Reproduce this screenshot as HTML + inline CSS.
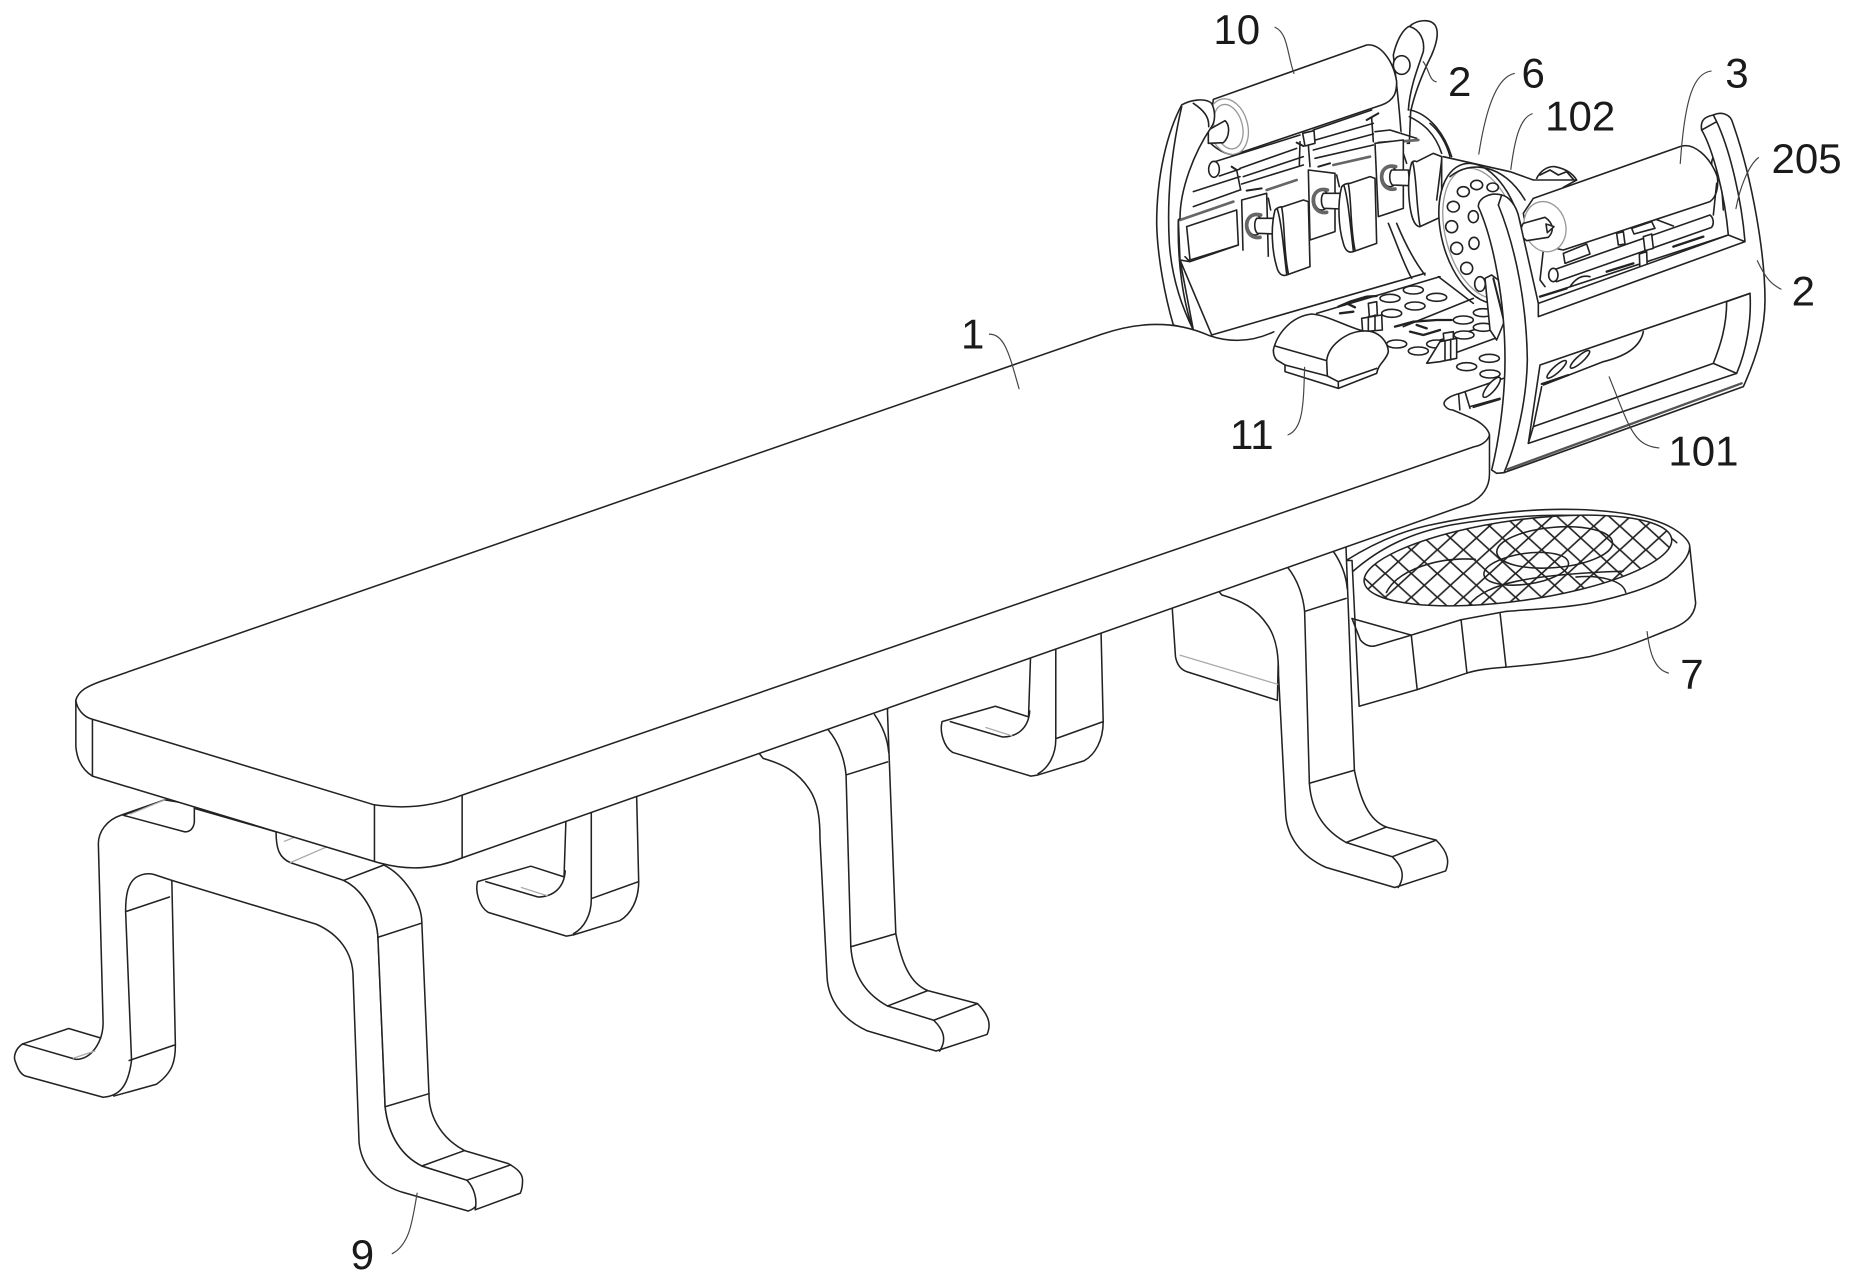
<!DOCTYPE html>
<html><head><meta charset="utf-8"><style>
html,body{margin:0;padding:0;background:#fff}
svg{display:block}
.d path,.d ellipse,.d circle,.d polygon{stroke:#222;stroke-width:1.3;fill:#fff;stroke-linejoin:round;stroke-linecap:round}
.d .n{fill:none}
.d .g{stroke:#aaa;fill:none;stroke-width:1.1}
.d .l{stroke:#444;fill:none;stroke-width:1}
.d .k{stroke:#222;fill:none;stroke-width:2.6}
.z path,.z ellipse,.z circle{stroke-width:4.8}
.z .g{stroke:#999;stroke-width:4;fill:none}
.z .k{stroke-width:9}
.z .m{stroke:#666;stroke-width:11;fill:none}
.z .w{stroke:none}
text{font-family:"Liberation Sans",sans-serif;font-size:35.5px;fill:#1a1a1a}
</style></head><body>
<svg class="d" width="1858" height="1284" viewBox="0 0 1568 1083.6" xmlns="http://www.w3.org/2000/svg">
<defs>
<pattern id="mesh" width="22" height="20" patternUnits="userSpaceOnUse" patternTransform="translate(3 4)">
<path d="M-1 -1L23 21M23 -1L-1 21" style="stroke:#222;stroke-width:1.4;fill:none"/>
</pattern>
<clipPath id="mc"><ellipse cx="1281" cy="473" rx="131" ry="34" transform="rotate(-8 1281 473)"/></clipPath>
<g id="legM">
<path d="M1031 502C1048 507 1060 513 1070 528C1078 540 1079 555 1079 570L1085 687C1086 705 1097 722 1119 732L1177 749L1220 735C1223 728 1223 720 1212 709L1170 698C1155 692 1148 675 1143 650L1136 464L1136 448L1020 488Z"/>
<path class="n" d="M1086 478C1096 490 1100 505 1101 516L1105 661C1107 688 1120 702 1136 711L1175 723C1182 730 1187 738 1180 749"/>
<path class="n" d="M1101 516L1136 505M1105 661L1143 650M1136 711L1170 698M1175 723L1212 709M1125 465C1132 475 1136 485 1137 497"/>
</g>
<g id="legR">
<path d="M403 744L448 731L476 740L478 680L537 660L539 744C539 760 532 772 523 777L484 789L478 790L412 770C404 765 401 752 403 744Z"/>
<path class="n" d="M410 744L454 757C466 757 476 750 477 735"/>
<path class="n" d="M499 675L499 759C499 772 493 783 484 788M500 758L539 744"/>
<path class="g" d="M440 749L462 756"/>
</g>
<g id="hd" class="z">
<path d="M430 590L490 570L505 575L510 770L440 795C425 800 415 790 410 770C395 720 392 650 405 600C412 592 422 590 430 590Z"/>
<path class="n" d="M412 597C425 640 430 710 440 792M425 592C435 640 430 720 445 790"/>
</g>
<g id="rg" class="z">
<ellipse cx="345" cy="645" rx="22" ry="30"/>
<path class="m" d="M362 615C335 608 318 625 320 650C322 672 338 686 360 682"/>
<path d="M350 625L400 625L405 672L352 670C342 660 342 635 350 625Z"/>
</g>
</defs>
<rect width="1568" height="1084" style="fill:#fff;stroke:none"/>

<!-- REAR UNIT, zoom-1 coords -->
<g class="z" transform="scale(0.84392) translate(1140 10) scale(0.33333)">
<path d="M785 400C780 300 770 230 760 135C770 90 790 55 810 48C830 30 870 25 885 45C898 65 890 100 875 135C850 185 825 245 812 305L808 400Z"/>
<path class="n" d="M810 50C840 60 855 90 850 125C835 170 810 230 805 300"/>
<ellipse cx="785" cy="165" rx="25" ry="28"/>
<path class="n" d="M810 300C860 310 910 360 935 440M808 320C850 340 885 370 905 430"/>
<path d="M220 268L680 105C720 100 760 150 770 215C770 245 765 270 725 285L280 435C240 430 210 400 205 390Z"/>
<ellipse cx="265" cy="350" rx="58" ry="85" class="g" transform="rotate(-15 265 350)"/>
<ellipse cx="265" cy="350" rx="42" ry="68" class="g" transform="rotate(-15 265 350)"/>
<path d="M205 360L255 332C270 345 270 380 250 398L205 400Z"/>
<!-- bars -->
<path class="w" d="M160 510L700 300L800 380L800 640L500 780L150 760Z"/>
<ellipse cx="222" cy="478" rx="16" ry="24"/>
<path class="n" d="M225 455L480 375M238 498L300 477M300 475L470 415M310 500L490 440M305 522L490 465M160 545L300 500M160 590L300 540"/>
<path class="n" d="M520 360L695 300M520 392L700 340M520 420L700 372M525 445L700 405M705 365L750 360L830 385"/>
<path d="M488 370L522 362L525 400L495 408Z"/>
<path class="n" d="M480 395L478 465M505 405L510 470M695 325L700 395M290 480L302 540M385 565L392 600M590 495L598 530M790 430L800 460"/>
<path class="k" d="M470 398L490 408M680 330L715 310M275 470L290 480M320 542L365 535M535 470L570 460M715 398L790 392" style="stroke-width:6"/>
<path class="m" d="M120 630L280 575M380 540L470 510M580 465L690 440M775 395L835 390" style="stroke-width:8"/>
<!-- blocks -->
<path d="M140 650L290 600L295 705L150 750Z"/>
<path d="M305 570L380 550L385 740L310 765Z"/>
<path d="M505 480L585 490L585 665L510 690Z"/>
<path d="M705 400L790 390L790 595L715 620Z"/>
<!-- near frame -->
<path d="M125 285C80 370 50 500 50 640C52 740 75 860 100 945L160 960C130 880 112 760 115 630L120 625C120 540 160 430 215 350C228 330 225 300 215 280C195 262 150 270 125 285Z"/>
<path class="n" d="M160 280C190 300 208 320 206 350M125 290C95 420 80 560 88 700C95 800 125 890 160 960"/>
<path class="w" d="M120 750L160 960L215 975L855 790L790 600L715 625L790 760L510 770L300 720L150 755Z"/>
<path class="n" d="M120 750L150 755L295 705M120 750L160 960M120 750L215 975L855 790M115 630L120 750M135 740L150 755"/>
<path class="n" d="M745 640C770 700 790 760 815 805M770 640C795 700 820 750 855 795"/>
<use href="#rg"/>
<use href="#rg" x="200" y="-75"/>
<use href="#rg" x="405" y="-145"/>
<use href="#hd"/>
<use href="#hd" x="200" y="-70"/>
<path d="M830 455L880 430L905 440L905 620L840 650C825 650 815 625 810 590C803 540 805 490 815 458C820 452 825 452 830 455Z"/>
<path class="n" d="M818 455C830 500 828 580 840 648"/>
</g>

<!-- PLATE, zoom-3 coords -->
<g class="z" transform="scale(0.84392) translate(1240 270) scale(0.33333)">
<path class="n" d="M230 130L600 20M490 170L700 85M560 280L765 205M600 210L750 165"/>
<g>
<ellipse cx="520" cy="60" rx="30" ry="12"/><ellipse cx="590" cy="82" rx="30" ry="12"/><ellipse cx="450" cy="85" rx="30" ry="12"/>
<ellipse cx="525" cy="108" rx="30" ry="12"/><ellipse cx="455" cy="130" rx="30" ry="12"/><ellipse cx="670" cy="150" rx="30" ry="12"/>
<ellipse cx="730" cy="128" rx="30" ry="12"/><ellipse cx="730" cy="172" rx="30" ry="12"/><ellipse cx="672" cy="195" rx="30" ry="12"/>
<ellipse cx="470" cy="222" rx="30" ry="12"/><ellipse cx="535" cy="243" rx="30" ry="12"/><ellipse cx="590" cy="222" rx="30" ry="12"/>
<ellipse cx="748" cy="265" rx="30" ry="12"/><ellipse cx="680" cy="290" rx="30" ry="12"/><ellipse cx="750" cy="312" rx="30" ry="12"/>
</g>
<path d="M385 100L410 95L412 135L388 140Z"/>
<path d="M365 145L425 135L427 180L368 185Z"/><path class="n" d="M385 140L385 180M405 135L405 180"/>
<path d="M610 190L640 185L640 210L612 215Z"/>
<path d="M600 215L650 205L650 265L600 275L560 280Z"/><path class="n" d="M615 212L615 270M632 208L632 270"/>
<path class="k" d="M295 110L330 95L380 80L410 78M300 130L340 125M320 100L345 112" style="stroke-width:7"/>
<path class="k" d="M465 170L520 155L590 150L635 150M510 185L550 195L600 180M530 165L560 175" style="stroke-width:7"/>
<path class="n" d="M660 370L790 325M690 410L780 385"/>
<path class="k" d="M700 412L780 388" style="stroke-width:5"/>
<path class="n" d="M675 365L690 415"/>
<ellipse cx="755" cy="352" rx="12" ry="38" transform="rotate(40 755 352)"/>
</g>

<!-- DISC + FRONT INTERNALS, zoom-2 coords -->
<g class="z" transform="scale(0.84392) translate(1430 100) scale(0.33333)">
<path class="n" d="M0 70C25 90 50 130 60 170M40 170L240 215L310 240L440 240M35 180L20 300M25 530L130 610"/>
<path class="n" d="M320 235C330 215 350 198 375 200C400 205 425 215 440 240L400 262"/>
<path class="k" d="M330 225L360 210L385 225L410 215L430 238" style="stroke-width:5"/>
<ellipse cx="155" cy="400" rx="120" ry="215" transform="rotate(-15 155 400)"/>
<ellipse cx="155" cy="400" rx="108" ry="200" class="g" transform="rotate(-15 155 400)"/>
<path class="n" d="M60 230C120 180 220 190 285 300"/>
<g>
<ellipse cx="140" cy="255" rx="18" ry="14"/><ellipse cx="100" cy="275" rx="18" ry="15"/><ellipse cx="70" cy="320" rx="18" ry="16"/>
<ellipse cx="65" cy="380" rx="18" ry="18"/><ellipse cx="80" cy="445" rx="18" ry="18"/><ellipse cx="110" cy="505" rx="18" ry="18"/>
<ellipse cx="150" cy="552" rx="16" ry="22"/><ellipse cx="188" cy="262" rx="17" ry="13"/><ellipse cx="130" cy="350" rx="15" ry="18"/>
<ellipse cx="132" cy="430" rx="15" ry="18"/>
</g>
<path d="M165 535L185 525L205 540L225 660L200 720L180 690Z"/>
<path class="k" d="M190 535L220 655" style="stroke-width:6"/>
<!-- interior -->
<path class="n" d="M400 440L840 300M330 590L895 405"/>
<path d="M370 510L840 345C852 355 852 372 845 382L380 545C365 540 362 520 370 510Z"/>
<ellipse cx="370" cy="525" rx="14" ry="20"/>
<path d="M400 460L470 432L480 462L405 490Z"/>
<path d="M560 400L580 395L585 432L565 435Z"/>
<path d="M605 385L665 365L675 385L612 402Z"/>
<path d="M640 410L665 402L670 445L645 452Z"/>
<path d="M628 462L650 455L652 510L630 515Z"/>
<path class="n" d="M670 355L730 378M340 450L330 540L345 560"/>
<path class="k" d="M330 590L410 565M530 515L610 490M730 440L820 410" style="stroke-width:7"/>
<path class="n" d="M420 560C440 530 460 525 480 530"/>
<!-- roller 3 -->
<ellipse cx="870" cy="190" rx="25" ry="30"/>
<path d="M310 295L750 140C790 125 840 170 862 230C866 260 860 290 840 305L400 450C340 440 285 390 280 340Z"/>
<path class="n" d="M860 250L850 345M875 260L880 330"/>
<ellipse cx="345" cy="380" rx="62" ry="76" style="stroke:#999;fill:#fff;stroke-width:4" transform="rotate(-15 345 380)"/>
<path d="M280 370L345 352C372 370 372 395 355 412L290 422C270 410 270 385 280 370Z"/>
<path d="M348 372L372 380L352 398Z"/>
</g>

<!-- leg parts behind table -->
<path d="M989 509L992 554C993 560 996 565 1002 567L1078 591L1080 500L1020 490Z"/>
<path class="g" d="M996 553L1080 578"/>

<!-- basket -->
<path d="M1136 473C1160 458 1185 447 1212 442C1260 432 1300 429 1332 430C1365 431 1395 436 1412 446C1422 452 1426 458 1426 461L1431 509C1430 520 1422 527 1407 532C1385 541 1365 549 1342 554C1320 558 1295 561 1271 563C1258 564 1248 565 1238 568L1196 582L1147 596L1141 473Z"/>
<path class="n" d="M1141 522L1148 540C1152 545 1157 546 1161 545L1191 536L1233 523L1271 516C1295 514 1320 513 1342 509C1370 503 1395 495 1407 487C1418 478 1426 470 1426 461"/>
<path class="n" d="M1141 522L1191 536L1196 582M1233 523L1238 568M1266 518L1271 563"/>
<path class="n" d="M1142 482C1165 462 1190 450 1225 443C1265 436 1310 433 1345 436C1380 439 1405 448 1415 458"/>
<ellipse cx="1281" cy="473" rx="131" ry="34" transform="rotate(-8 1281 473)" style="fill:#fff"/>
<ellipse cx="1312" cy="462" rx="49" ry="17" class="n" transform="rotate(-5 1312 462)"/>
<ellipse cx="1288" cy="480" rx="36" ry="13" class="n" transform="rotate(-8 1288 480)"/>
<path class="n" d="M1170 500C1180 480 1215 470 1245 472M1240 510C1255 492 1290 485 1370 482M1330 487C1350 485 1370 490 1372 500"/>
<g clip-path="url(#mc)"><rect x="1140" y="425" width="280" height="100" style="fill:url(#mesh);stroke:none"/></g>

<use href="#legM"/>
<use href="#legM" x="-387" y="138"/>
<use href="#legR" x="392" y="-135"/>
<use href="#legR"/>

<!-- front leg -->
<path d="M139 675L102 688C90 692 83 702 83 712L87 863C87 878 78 894 64 894L19 881C13 885 11 892 13 896C15 902 17 906 21 908L87 926C100 925 108 918 111 895L106 769C106 755 108 746 114 741C120 737 126 737 130 738L145 743L267 780C285 788 298 803 298 825L303 964C305 985 320 1000 339 1006L395 1022C402 1020 405 1014 403 1009C401 1003 398 998 394 996L356 984C340 976 328 960 325 934L319 792C318 770 305 750 290 743L245 728C236 724 233 717 233 702Z"/>
<path d="M139 675L164 679L164 694C163 700 160 702 156 702L104 688Z"/>
<path class="n" d="M145 743L148 882C148 895 146 905 132 915L96 925M107 769L143 757M109 895L147 882"/>
<path class="n" d="M19 881L58 868L85 876"/>
<path class="g" d="M62 893L80 887M110 687L139 675M245 728L282 712M240 710L250 706"/>
<path d="M324 730C340 738 356 760 356 779L362 923C362 945 375 962 392 971L429 982C436 986 441 990 441 996C441 1002 440 1005 439 1007L401 1021C403 1012 400 1002 394 996L356 984C340 976 328 960 325 934L319 792C318 770 305 750 290 743Z"/>
<path class="n" d="M319 791L356 779M325 934L362 923M356 984L392 971M394 996L431 983"/>

<!-- table -->
<path d="M64 591L64 630C65 642 70 650 78 655L316 727C345 736 368 733 390 724L1240 425C1250 420 1257 412 1257 400L1257 367L1100 350L64 591Z"/>
<path class="n" d="M78 607L78 655M316 680L316 727M390 671L390 724"/>
<path d="M64 591C66 583 74 579 85 575L930 282C965 270 995 272 1020 283C1040 290 1058 288 1075 280L1120 300L1162 315L1204 307L1232 332C1224 334 1217 338 1219 342C1221 345 1224 346 1226 346L1240 352C1250 356 1256 362 1257 367C1256 372 1250 376 1244 377L390 671C365 681 340 683 315 679L78 607C70 605 65 598 64 591Z" style="stroke:none"/>
<path class="n" d="M64 591C66 583 74 579 85 575L930 282C965 270 995 272 1020 283C1040 290 1058 288 1075 280"/>
<path class="n" d="M1232 332C1224 334 1217 338 1219 342C1221 345 1224 346 1226 346L1240 352C1250 356 1256 362 1257 367C1256 372 1250 376 1244 377L390 671C365 681 340 683 315 679L78 607C70 605 65 598 64 591"/>
<path class="n" d="M1231 333L1232 346"/>

<!-- cap 11 + front frame -->
<g class="z" transform="scale(0.84392) translate(1240 270) scale(0.33333)">
<path d="M100 240C110 195 150 140 215 132C260 135 320 170 370 183C420 180 445 220 445 245C440 270 415 280 410 310L295 355L135 305L135 285L110 270C103 262 100 250 100 240Z"/>
<path class="n" d="M105 228L260 272C265 225 320 185 370 183M260 272L262 318L295 335L295 355M135 285L262 318M295 335L410 295"/>
</g>
<g class="z" transform="scale(0.84392) translate(1430 100) scale(0.33333)">
<path d="M200 1120L222 1118L940 860C985 760 1005 680 1005 600C1005 470 970 240 905 60C895 40 870 35 850 45C825 50 810 60 815 90C850 150 885 290 895 405L325 610L265 345C258 320 240 290 215 285C180 275 145 295 145 320C190 420 225 600 225 780C225 900 205 1030 185 1110Z"/>
<path class="n" d="M205 315C260 450 290 620 292 780C290 900 260 1030 222 1118"/>
<path class="n" d="M325 610L325 650L945 425L895 405M860 65C900 150 935 300 945 425M850 45L860 65L815 90M215 285L205 315"/>
<path class="n" d="M232 1108L935 850" style="stroke:#555;stroke-width:7"/>
<path d="M330 795L960 580C965 660 950 750 920 820L295 1030Z"/>
<path class="n" d="M890 605C890 680 870 740 850 790L310 980L335 860M960 580L890 605M920 820L850 790M295 1030L310 980"/>
<path class="n" d="M640 695C630 745 580 770 520 785L340 855"/>
<ellipse cx="380" cy="808" rx="38" ry="10" transform="rotate(-42 380 808)"/>
<ellipse cx="450" cy="778" rx="38" ry="10" transform="rotate(-42 450 778)"/>
<path class="k" d="M335 852L415 825" style="stroke-width:6"/>
</g>

<!-- leaders -->
<g>
<path class="l" d="M1076 23C1087 28 1086 45 1092 62"/>
<path class="l" d="M1201 52C1206 58 1206 68 1212 69"/>
<path class="l" d="M1278 62C1265 65 1255 85 1248 130"/>
<path class="l" d="M1293 96C1282 100 1278 120 1275 143"/>
<path class="l" d="M1444 60C1430 62 1422 80 1418 138"/>
<path class="l" d="M1484 133C1475 140 1468 160 1465 176"/>
<path class="l" d="M1483 220C1490 235 1495 240 1503 244"/>
<path class="l" d="M835 282C848 282 852 300 860 328"/>
<path class="l" d="M1087 367C1100 362 1100 340 1101 310"/>
<path class="l" d="M1358 318C1375 360 1378 376 1400 378"/>
<path class="l" d="M1390 533C1392 550 1396 565 1408 568"/>
<path class="l" d="M352 1007C348 1030 346 1050 331 1058"/>
</g>
<text x="1024" y="37">10</text>
<text x="1222" y="81">2</text>
<text x="1284" y="74">6</text>
<text x="1304" y="110">102</text>
<text x="1456" y="74">3</text>
<text x="1495" y="146">205</text>
<text x="1512" y="258">2</text>
<text x="811" y="294">1</text>
<text x="1038" y="379">11</text>
<text x="1408" y="393">101</text>
<text x="1418" y="581">7</text>
<text x="296" y="1071">9</text>
</svg>
</body></html>
